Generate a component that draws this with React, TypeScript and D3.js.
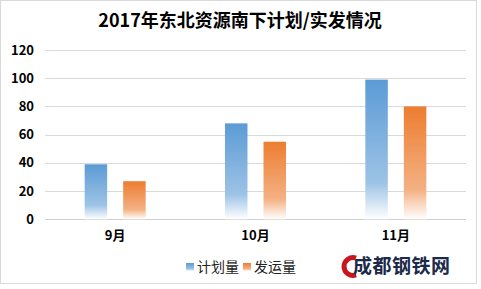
import React from "react";
import * as d3 from "d3";

const title = "2017年东北资源南下计划/实发情况";
const months = ["9月", "10月", "11月"];
const seriesNames = ["计划量", "发运量"];
const planned = [39, 68, 99];
const shipped = [27, 55, 80];
const yTicks = [0, 20, 40, 60, 80, 100, 120];

const W = 481;
const H = 289;
const colors = [
  { top: "#5B9BD5", mid: "#9DC3E6" },
  { top: "#ED7D31", mid: "#F4B183" },
];
const font = "'Noto Sans CJK SC', 'Noto Sans', sans-serif";

export default function App() {
  const x0 = d3.scaleBand<string>().domain(months).range([45, 466]).padding(0);
  const bw = x0.bandwidth();
  const x1 = d3
    .scaleBand<string>()
    .domain(seriesNames)
    .range([bw / 2 - 30.5, bw / 2 + 30.5])
    .paddingInner(0.416)
    .paddingOuter(0);
  const y = d3.scaleLinear().domain([0, 120]).range([219.3, 50]);
  const series = [planned, shipped];

  return (
    <svg
      width={W}
      height={H}
      style={{ position: "absolute", left: 0, top: 0, background: "#fff" }}
      fontFamily={font}
    >
      <defs>
        {colors.map((c, i) => (
          <linearGradient key={i} id={`g${i}`} x1="0" y1="0" x2="0" y2="1">
            <stop offset="0" stopColor={c.top} />
            <stop offset="0.74" stopColor={c.mid} />
            <stop offset="1" stopColor="#ffffff" />
          </linearGradient>
        ))}
      </defs>
      <rect x={0.5} y={0.5} width={476} height={283} fill="#fff" stroke="#d9d9d9" />
      <text x={240} y={27} textAnchor="middle" fontSize={18} fontWeight="bold" fill="#000">
        {title}
      </text>
      {yTicks.map((t) => (
        <g key={t}>
          <line
            x1={45}
            x2={466}
            y1={Math.round(y(t)) + 0.5}
            y2={Math.round(y(t)) + 0.5}
            stroke={t === 0 ? "#cfcfcf" : "#d9d9d9"}
            strokeWidth={1}
          />
          <text x={34} y={y(t) + 4.5} textAnchor="end" fontSize={13} fontWeight="bold" fill="#000">
            {t}
          </text>
        </g>
      ))}
      {months.map((m, mi) => (
        <g key={m} transform={`translate(${x0(m)},0)`}>
          {series.map((vals, si) => (
            <rect
              key={si}
              x={x1(seriesNames[si])}
              y={y(vals[mi])}
              width={x1.bandwidth()}
              height={y(0) - y(vals[mi])}
              fill={`url(#g${si})`}
            />
          ))}
          <text x={bw / 2} y={240} textAnchor="middle" fontSize={13} fontWeight="bold" fill="#000">
            {m}
          </text>
        </g>
      ))}
      {seriesNames.map((s, i) => {
        const lx = i === 0 ? 186 : 243;
        return (
          <g key={s}>
            <rect x={lx} y={263} width={8} height={8} fill={`url(#g${i})`} />
            <text x={lx + 11} y={272} fontSize={14} fill="#222">
              {s}
            </text>
          </g>
        );
      })}
      <g>
        <path
          d="M 356 258 A 9 9 0 1 0 356 275"
          fill="none"
          stroke="#c8161d"
          strokeWidth={5}
        />
        <text x={353} y={273} fontSize={19} fontWeight="bold" fill="#1b2a4a" letterSpacing={0.5}>
          成都<tspan>钢</tspan>铁网
        </text>
      </g>
    </svg>
  );
}
